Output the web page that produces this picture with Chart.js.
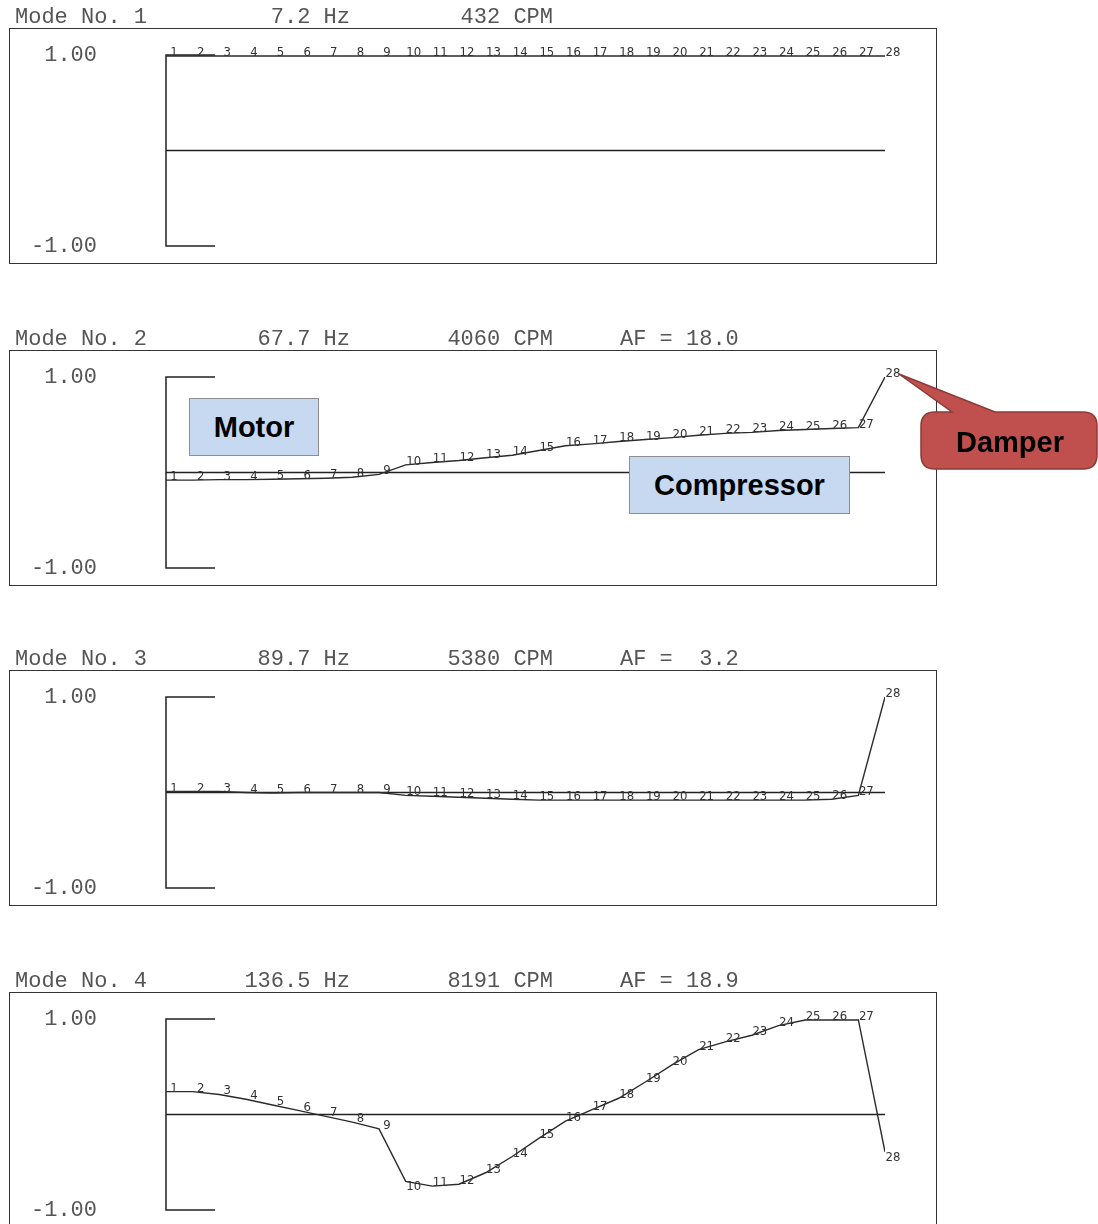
<!DOCTYPE html>
<html>
<head>
<meta charset="utf-8">
<title>Mode shapes</title>
<script src="https://cdn.jsdelivr.net/npm/chart.js@4.4.0/dist/chart.umd.min.js"></script>
<style>
    body {
        margin: 0;
        width: 1098px;
        height: 1224px;
        overflow: hidden;
        background: #fff;
        position: relative;
    }
    .hdr {
        position: absolute;
        font-family: "Liberation Mono", "DejaVu Sans Mono", monospace;
        font-size: 22px;
        line-height: 22px;
        color: #555;
        white-space: pre;
    }
    .box {
        position: absolute;
        left: 9px;
        width: 928px;
        border: 1.5px solid #333;
        box-sizing: border-box;
    }
    canvas.mode {
        position: absolute;
        left: 9px;
    }
    .tag {
        position: absolute;
        background: #c6d9f1;
        border: 1px solid #8e8e8e;
        box-sizing: border-box;
        font-family: "Liberation Sans", Arial, sans-serif;
        font-weight: bold;
        font-size: 29px;
        color: #000;
        display: flex;
        align-items: center;
        justify-content: center;
    }
    svg.callout {
        position: absolute;
        left: 0;
        top: 0;
    }
</style>
</head>
<body>

<div class="tag" style="left:189px; top:398px; width:130px; height:58px;">Motor</div>
<div class="tag" style="left:629px; top:456px; width:221px; height:58px;">Compressor</div>

<svg class="callout" width="1098" height="1224">
    <path d="M 935 412 L 952 412 L 899 374 L 995 412 L 1083 412 Q 1097 412 1097 426 L 1097 455 Q 1097 469 1083 469 L 935 469 Q 921 469 921 455 L 921 426 Q 921 412 935 412 Z"
          fill="#c0504d" stroke="#8b3a38" stroke-width="1.5"/>
    <text x="1010" y="452" text-anchor="middle"
          font-family="Liberation Sans, Arial, sans-serif" font-weight="bold" font-size="29" fill="#000">Damper</text>
</svg>

<script>

/* ---------------- Data ---------------- */

const nodeNumbers = [1, 2, 3, 4, 5, 6, 7, 8, 9, 10, 11, 12, 13, 14,
    15, 16, 17, 18, 19, 20, 21, 22, 23, 24, 25, 26, 27, 28];

const modeFreqHz = ["7.2", "67.7", "89.7", "136.5"];
const modeCpm = ["432", "4060", "5380", "8191"];
const modeAf = [null, "18.0", " 3.2", "18.9"];

const mode1Shape = [0.99, 0.99, 0.99, 0.99, 0.99, 0.99, 0.99, 0.99, 0.99, 0.99,
    0.99, 0.99, 0.99, 0.99, 0.99, 0.99, 0.99, 0.99, 0.99, 0.99,
    0.99, 0.99, 0.99, 0.99, 0.99, 0.99, 0.99, 0.99];

const mode2Shape = [-0.08, -0.08, -0.075, -0.075, -0.07, -0.065, -0.06, -0.05, -0.02, 0.08,
    0.105, 0.125, 0.155, 0.18, 0.23, 0.28, 0.30, 0.325, 0.345, 0.365,
    0.39, 0.41, 0.42, 0.44, 0.45, 0.46, 0.47, 1.00];

const mode3Shape = [0.01, 0.01, 0.01, 0.0, -0.005, 0.0, 0.0, 0.0, 0.0, -0.03,
    -0.04, -0.05, -0.06, -0.07, -0.08, -0.08, -0.08, -0.08, -0.08, -0.08,
    -0.08, -0.08, -0.08, -0.08, -0.08, -0.07, -0.03, 1.00];

const mode4Shape = [0.24, 0.24, 0.21, 0.16, 0.10, 0.04, -0.02, -0.08, -0.15, -0.70,
    -0.75, -0.73, -0.61, -0.44, -0.25, -0.07, 0.05, 0.17, 0.34, 0.52,
    0.68, 0.76, 0.83, 0.93, 0.99, 0.99, 0.99, -0.39];

const modeShapes = [mode1Shape, mode2Shape, mode3Shape, mode4Shape];

const yTickValues = [-1, 1];

// top of each bordered panel on the page
const panelTops = [28, 350, 670, 992];

/* ---------------- Plugins ---------------- */

const bracketPlugin = {
    id: "bracket",
    beforeDatasetsDraw(chart) {
        const { ctx, chartArea, scales } = chart;
        const y = scales.y;
        const left = chartArea.left;
        const top = y.getPixelForValue(1);
        const bottom = y.getPixelForValue(-1);
        const zero = y.getPixelForValue(0);

        ctx.save();
        ctx.strokeStyle = "#222";
        ctx.lineWidth = 1.5;
        ctx.beginPath();
        ctx.moveTo(left + 49, top);
        ctx.lineTo(left, top);
        ctx.lineTo(left, bottom);
        ctx.lineTo(left + 49, bottom);
        ctx.moveTo(left, zero);
        ctx.lineTo(chartArea.right, zero);
        ctx.stroke();
        ctx.restore();
    }
};

const nodeLabelPlugin = {
    id: "nodeLabels",
    afterDatasetsDraw(chart) {
        const { ctx } = chart;
        const points = chart.getDatasetMeta(0).data;

        ctx.save();
        ctx.font = '13px "Liberation Sans Narrow", "DejaVu Sans Condensed", "Liberation Sans", sans-serif';
        ctx.fillStyle = "#333";
        ctx.textAlign = "center";
        ctx.textBaseline = "alphabetic";

        points.forEach((pt, i) => {
            const prev = points[i - 1];
            const drop = prev && pt.y - prev.y > 30;
            ctx.fillText(String(nodeNumbers[i]), pt.x + 8, drop ? pt.y + 9 : pt.y);
        });

        ctx.restore();
    }
};

/* ---------------- Headers ---------------- */

function addHeader(index, top) {
    const parts = [
        { text: "Mode No. " + (index + 1), style: "left:15px;" },
        { text: modeFreqHz[index] + " Hz", style: "right:748px;" },
        { text: modeCpm[index] + " CPM", style: "right:545px;" }
    ];

    if (modeAf[index] !== null) {
        parts.push({ text: "AF = " + modeAf[index], style: "left:620px;" });
    }

    parts.forEach(part => {
        const span = document.createElement("div");
        span.className = "hdr";
        span.style.cssText = part.style + "top:" + (top - 21) + "px;";
        span.textContent = part.text;
        document.body.appendChild(span);
    });
}

/* ---------------- Mode Chart ---------------- */

function createModeChart(index) {
    const top = panelTops[index];

    const box = document.createElement("div");
    box.className = "box";
    box.style.top = top + "px";
    box.style.height = (index === 3 ? 260 : 236) + "px";

    const canvas = document.createElement("canvas");
    canvas.className = "mode";
    canvas.width = 928;
    canvas.height = 236;
    canvas.style.top = top + "px";

    const firstTag = document.querySelector(".tag");
    document.body.insertBefore(box, firstTag);
    document.body.insertBefore(canvas, firstTag);

    addHeader(index, top);

    const shape = modeShapes[index];

    new Chart(canvas, {
        type: "line",
        data: {
            datasets: [
                {
                    data: nodeNumbers.map((n, i) => ({ x: n, y: shape[i] })),
                    borderColor: "#2b2b2b",
                    borderWidth: 1.4,
                    pointRadius: 0,
                    tension: 0,
                    fill: false
                }
            ]
        },
        options: {
            responsive: false,
            animation: false,
            events: [],
            layout: {
                padding: { top: 27, bottom: 18, left: 0, right: 52 }
            },
            plugins: {
                legend: { display: false },
                tooltip: { enabled: false }
            },
            scales: {
                x: {
                    type: "linear",
                    display: false,
                    min: nodeNumbers[0],
                    max: nodeNumbers[nodeNumbers.length - 1]
                },
                y: {
                    min: yTickValues[0],
                    max: yTickValues[1],
                    grid: { display: false, drawTicks: true, tickLength: 69 },
                    border: { display: false },
                    afterBuildTicks: scale => {
                        scale.ticks = yTickValues.map(v => ({ value: v }));
                    },
                    afterFit: scale => {
                        scale.width = 157;
                    },
                    ticks: {
                        padding: 0,
                        color: "#555",
                        font: { family: "Liberation Mono", size: 22 },
                        callback: v => Number(v).toFixed(2)
                    }
                }
            }
        },
        plugins: [bracketPlugin, nodeLabelPlugin]
    });
}

/* ---------------- Start ---------------- */

modeShapes.forEach((shape, i) => createModeChart(i));

</script>
</body>
</html>
